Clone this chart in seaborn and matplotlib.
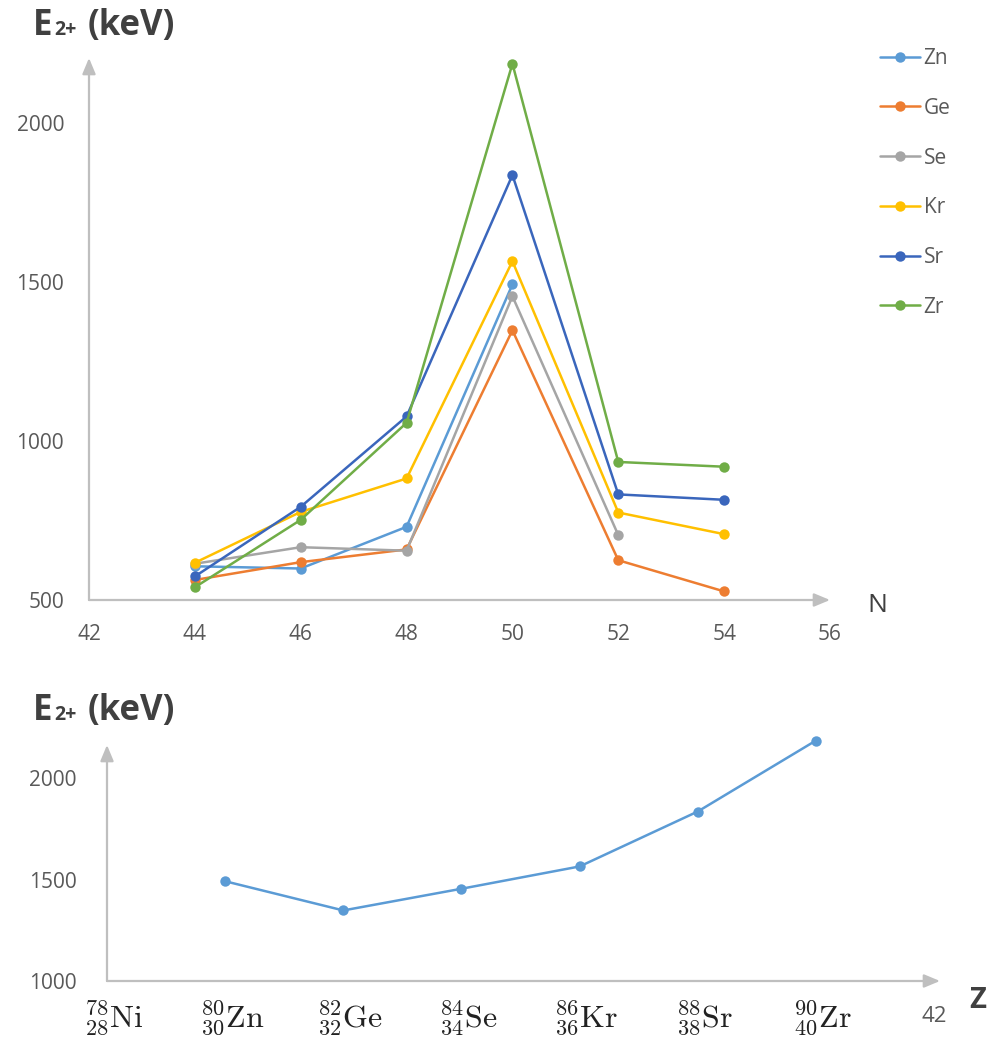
import matplotlib
matplotlib.use("Agg")
import matplotlib.pyplot as plt
import matplotlib.transforms as mtransforms
import numpy as np
import pandas as pd
import seaborn as sns

# ---------------- data ----------------
elements = ["Zn", "Ge", "Se", "Kr", "Sr", "Zr"]
N_values = [44, 46, 48, 50, 52, 54]
e2_zn = [606, 599, 730, 1492]
e2_ge = [563, 619, 659, 1348, 625, 527]
e2_se = [614, 666, 655, 1455, 704]
e2_kr = [617, 777, 882, 1565, 775, 707]
e2_sr = [574, 793, 1077, 1836, 832, 815]
e2_zr = [540, 752, 1057, 2186, 934, 919]
series = {"Zn": e2_zn, "Ge": e2_ge, "Se": e2_se, "Kr": e2_kr, "Sr": e2_sr, "Zr": e2_zr}

top_yticks = [500, 1000, 1500, 2000]
top_xticks = [42, 44, 46, 48, 50, 52, 54, 56]

z_values = [30, 32, 34, 36, 38, 40]
n50_e2 = [1492, 1348, 1455, 1565, 1836, 2186]
z_ticks = [28, 30, 32, 34, 36, 38, 40]
z_tick_labels = [r"${}^{78}_{28}\mathrm{Ni}$", r"${}^{80}_{30}\mathrm{Zn}$",
                 r"${}^{82}_{32}\mathrm{Ge}$", r"${}^{84}_{34}\mathrm{Se}$",
                 r"${}^{86}_{36}\mathrm{Kr}$", r"${}^{88}_{38}\mathrm{Sr}$",
                 r"${}^{90}_{40}\mathrm{Zr}$"]
z_end_tick = [42]
z_end_label = ["42"]
bottom_yticks = [1000, 1500, 2000]

colors = {"Zn": "#5B9BD5", "Ge": "#ED7D31", "Se": "#A5A5A5",
          "Kr": "#FFC000", "Sr": "#3A66BC", "Zr": "#70AD47"}

rows = []
for el in elements:
    for n, e in zip(N_values, series[el]):
        rows.append({"N": n, "E": e, "element": el})
df = pd.DataFrame(rows)
df_z = pd.DataFrame({"Z": z_values, "E": n50_e2})

# ---------------- style ----------------
sns.set_theme(style="white")
plt.rcParams["font.family"] = ["Open Sans", "DejaVu Sans"]
AXC = "#BFBFBF"
TXT = "#595959"
TITLE = "#404040"

W, H = 994, 1045
fig = plt.figure(figsize=(W / 100, H / 100), dpi=100)

def fx(px):
    return px / W

def fy(py):
    return 1 - py / H

def arrow_axes(ax):
    for s in ax.spines.values():
        s.set_visible(False)
    kw = dict(arrowstyle="-|>,head_length=0.6,head_width=0.25", color=AXC, lw=1.6,
              shrinkA=0, shrinkB=0, mutation_scale=16)
    ax.annotate("", xy=(1, 0), xytext=(0, 0), xycoords="axes fraction",
                arrowprops=kw, annotation_clip=False)
    ax.annotate("", xy=(0, 1), xytext=(0, 0), xycoords="axes fraction",
                arrowprops=kw, annotation_clip=False)
    ax.tick_params(which="both", length=0)

# ---------------- top chart ----------------
ax1 = fig.add_axes([fx(89), fy(600), fx(830 - 89), (600 - 58) / H])
sns.lineplot(data=df, x="N", y="E", hue="element", hue_order=elements,
             palette=colors, marker="o", markersize=7.5, markeredgewidth=0,
             linewidth=1.8, legend=False, ax=ax1, clip_on=False, sort=False)
ax1.set_xlim(42, 56)
ax1.set_ylim(500, 2204)
ax1.set_xticks(top_xticks)
ax1.set_yticks(top_yticks)
ax1.set_xlabel("")
ax1.set_ylabel("")
arrow_axes(ax1)
ax1.tick_params(axis="y", pad=18, labelsize=15, labelcolor=TXT)
ax1.tick_params(axis="x", pad=17, labelsize=15, labelcolor=TXT)

handles = ax1.get_lines()[:len(elements)]
ax1.legend(handles, elements, loc="upper left", bbox_to_anchor=(fx(880), fy(48)),
           bbox_transform=fig.transFigure, frameon=False, fontsize=15,
           labelspacing=1.38, handlelength=1.9, handletextpad=0.2,
           borderpad=0, borderaxespad=0, labelcolor=TXT)

fig.text(fx(867), fy(612), "N", fontsize=19, color=TITLE, va="baseline")

# title pieces
def ytitle(x0, base):
    fig.text(fx(x0), fy(base), "E", fontsize=25, fontweight="bold", color=TITLE, va="baseline")
    fig.text(fx(x0 + 21), fy(base), "2+", fontsize=14, fontweight="bold", color=TITLE, va="baseline")
    fig.text(fx(x0 + 55), fy(base), "(keV)", fontsize=25, fontweight="bold", color=TITLE, va="baseline")

ytitle(33, 35)

# ---------------- bottom chart ----------------
ax2 = fig.add_axes([fx(107), fy(981), fx(940 - 107), (981 - 745) / H])
sns.lineplot(data=df_z, x="Z", y="E", color="#5B9BD5", marker="o", markersize=7.5,
             markeredgewidth=0, linewidth=1.8, ax=ax2, clip_on=False)
ax2.set_xlim(28, 42.1)
ax2.set_ylim(1000, 2164)
ax2.set_yticks(bottom_yticks)
ax2.set_xticks(z_ticks)
ax2.set_xticklabels(z_tick_labels)
ax2.set_xticks(z_end_tick, minor=True)
ax2.set_xticklabels(z_end_label, minor=True)
ax2.set_xlabel("")
ax2.set_ylabel("")
arrow_axes(ax2)
ax2.tick_params(axis="y", pad=22, labelsize=15, labelcolor=TXT)
ax2.tick_params(axis="x", which="major", pad=12, labelsize=23, labelcolor="#222222")
ax2.tick_params(axis="x", which="minor", pad=18, labelsize=16, labelcolor=TXT)
shift = mtransforms.ScaledTranslation(7 / 100, 0, fig.dpi_scale_trans)
for lab in ax2.get_xticklabels():
    lab.set_math_fontfamily("cm")
    lab.set_transform(lab.get_transform() + shift)

fig.text(fx(969), fy(1008), "Z", fontsize=21, fontweight="bold", color=TITLE, va="baseline")
ytitle(33, 720)

fig.savefig("out.png", dpi=100)
